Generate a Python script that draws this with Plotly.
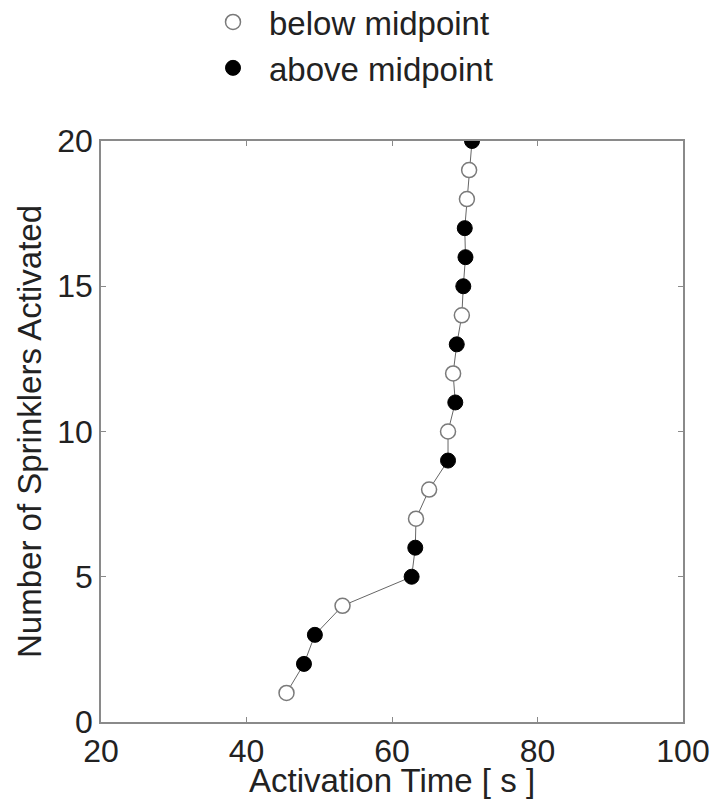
import plotly.graph_objects as go

# Data
sprinklers = list(range(1, 21))
activation_time = [45.5, 47.9, 49.4, 53.2, 62.7, 63.2, 63.3, 65.1, 67.7, 67.7,
                   68.7, 68.4, 68.9, 69.6, 69.8, 70.1, 70.0, 70.3, 70.6, 71.0]
# True = above midpoint (filled), False = below midpoint (hollow)
above_midpoint = [False, True, True, False, True, True, False, False, True, False,
                  True, False, True, False, True, True, True, False, False, True]

x_ticks = [20, 40, 60, 80, 100]
y_ticks = [0, 5, 10, 15, 20]

FONT = "Liberation Sans, Arial, Helvetica, sans-serif"
FS_TICK = 32
FS_TITLE = 33

below_x = [t for t, a in zip(activation_time, above_midpoint) if not a]
below_y = [s for s, a in zip(sprinklers, above_midpoint) if not a]
above_x = [t for t, a in zip(activation_time, above_midpoint) if a]
above_y = [s for s, a in zip(sprinklers, above_midpoint) if a]

fig = go.Figure()
fig.add_trace(go.Scatter(x=activation_time, y=sprinklers, mode="lines",
                         line=dict(color="#666666", width=1), showlegend=False,
                         hoverinfo="skip"))
fig.add_trace(go.Scatter(x=below_x, y=below_y, mode="markers", name="below midpoint",
                         marker=dict(symbol="circle", size=15, color="white",
                                     line=dict(color="#7a7a7a", width=1.5))))
fig.add_trace(go.Scatter(x=above_x, y=above_y, mode="markers", name="above midpoint",
                         marker=dict(symbol="circle", size=15, color="black",
                                     line=dict(color="black", width=1))))

axis_common = dict(
    showline=True, linecolor="#8a8a8a", linewidth=1.5, mirror="ticks",
    ticks="inside", ticklen=5, tickwidth=1, tickcolor="#8a8a8a",
    showgrid=False, zeroline=False, automargin=False,
    tickfont=dict(family=FONT, size=FS_TICK, color="#222222"),
)

fig.update_xaxes(range=[20, 100], tickvals=x_ticks, ticktext=[str(v) for v in x_ticks],
                 title=dict(text="Activation Time [ s ]", standoff=0,
                            font=dict(family=FONT, size=FS_TITLE, color="#222222")),
                 **axis_common)
fig.update_yaxes(range=[0, 20], tickvals=y_ticks, ticktext=[str(v) for v in y_ticks],
                 title=dict(text="Number of Sprinklers Activated", standoff=6,
                            font=dict(family=FONT, size=FS_TITLE, color="#222222")),
                 **axis_common)

# the page body adds an 8 px offset, so the figure is 712x791 placed at (8, 8)
fig.update_layout(
    width=712, height=791,
    margin=dict(l=93, r=37, t=133, b=77, autoexpand=False),
    plot_bgcolor="white", paper_bgcolor="white",
    font=dict(family=FONT, size=FS_TITLE, color="#222222"),
    legend=dict(x=(197 - 101) / 582, y=1.253, xanchor="left", yanchor="top",
                bgcolor="rgba(0,0,0,0)", borderwidth=0,
                font=dict(family=FONT, size=FS_TITLE, color="#222222"),
                itemwidth=62, tracegroupgap=0),
)

fig.write_html("out.html")
